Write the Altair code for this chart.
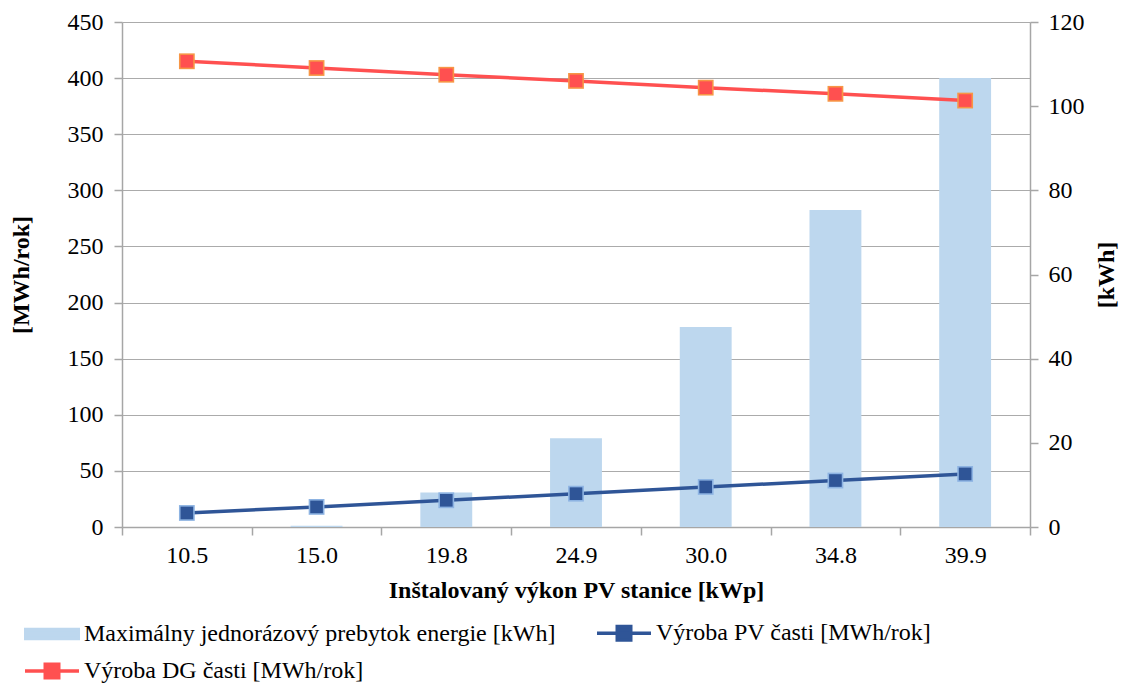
import altair as alt
import pandas as pd

categories = ["10.5", "15.0", "19.8", "24.9", "30.0", "34.8", "39.9"]
surplus_kwh = [0.0, 0.3, 8.2, 21.1, 47.5, 75.3, 106.7]
pv_mwh = [12.5, 17.9, 23.8, 29.7, 35.7, 41.4, 47.3]
dg_mwh = [415, 409, 403, 397.5, 391.5, 386, 380]

S_BAR = "Maximálny jednorázový prebytok energie [kWh]"
S_PV = "Výroba PV časti [MWh/rok]"
S_DG = "Výroba DG časti [MWh/rok]"
series = [S_BAR, S_PV, S_DG]
colors = ["#BDD7EE", "#2F5597", "#FF5050"]
borders = ["#BDD7EE", "#8DB3E2", "#F79646"]
legend_shapes = ["M-1.75,-0.3H1.75V0.3H-1.75Z", "M-1.8,0H1.8M-0.45,-0.45H0.45V0.45H-0.45Z",
                 "M-1.8,0H1.8M-0.45,-0.45H0.45V0.45H-0.45Z"]

bars_df = pd.DataFrame({"cat": categories, "val": surplus_kwh, "series": S_BAR})
lines_df = pd.concat([
    pd.DataFrame({"cat": categories, "val": pv_mwh, "series": S_PV}),
    pd.DataFrame({"cat": categories, "val": dg_mwh, "series": S_DG}),
])
empty_df = pd.DataFrame({"cat": pd.Series([], dtype=str), "val": pd.Series([], dtype=float),
                         "series": pd.Series([], dtype=str)})

FONT = "Liberation Serif"
FS = 24
fill_scale = alt.Scale(domain=series, range=colors)
stroke_scale = alt.Scale(domain=series, range=colors)
shape_scale = alt.Scale(domain=series, range=legend_shapes)


def make_legend():
    return alt.Legend(
        title=None, orient="none", legendX=-87, legendY=594, columns=2, values=series,
        direction="horizontal",
        columnPadding=34, rowPadding=7, symbolSize=900, labelOffset=15,
        labelFont=FONT, labelFontSize=FS, labelColor="#000", labelLimit=800,
        symbolStrokeWidth=3.5, symbolOpacity=1,
    )


x_enc = alt.X("cat:N", sort=categories,
              scale=alt.Scale(paddingInner=0, paddingOuter=0),
              axis=alt.Axis(title="Inštalovaný výkon PV stanice [kWp]", labelAngle=0,
                            tickBand="extent", tickSize=8, labelPadding=8,
                            titlePadding=11, grid=False))

bars = alt.Chart(bars_df).mark_bar(width=alt.RelativeBandSize(0.4)).encode(
    x=x_enc,
    y=alt.Y("val:Q", scale=alt.Scale(domain=[0, 120], nice=False),
            axis=alt.Axis(orient="right", title="[kWh]", values=list(range(0, 121, 20)),
                          grid=False, tickSize=8, labelPadding=10, titlePadding=10,
                          titleAngle=270, titleBaseline="top")),
    fill=alt.Fill("series:N", sort=series, scale=fill_scale, legend=make_legend()),
)

y_left = alt.Y("val:Q", scale=alt.Scale(domain=[0, 450], nice=False),
               axis=alt.Axis(orient="left", title="[MWh/rok]", values=list(range(0, 451, 50)),
                             grid=True, tickSize=8, labelPadding=11, titlePadding=34))

lines = alt.Chart(lines_df).mark_line(strokeWidth=3.5).encode(
    x=x_enc, y=y_left,
    stroke=alt.Stroke("series:N", sort=series, scale=stroke_scale, legend=make_legend()),
)
point_borders = alt.Chart(lines_df).mark_point(shape="square", filled=True, size=250,
                                               opacity=1).encode(
    x=x_enc, y=y_left,
    color=alt.Color("series:N", sort=series,
                    scale=alt.Scale(domain=series, range=borders), legend=None),
)
points = alt.Chart(lines_df).mark_point(shape="square", filled=True, size=160,
                                        opacity=1).encode(
    x=x_enc, y=y_left,
    fill=alt.Fill("series:N", sort=series, scale=fill_scale, legend=make_legend()),
)
legend_layer = alt.Chart(empty_df).mark_point(filled=True, opacity=1).encode(
    x=x_enc, y=y_left,
    shape=alt.Shape("series:N", sort=series, scale=shape_scale, legend=make_legend()),
    fill=alt.Fill("series:N", sort=series, scale=fill_scale, legend=make_legend()),
    stroke=alt.Stroke("series:N", sort=series, scale=stroke_scale, legend=make_legend()),
)

chart = alt.layer(
    bars, alt.layer(lines, point_borders, points, legend_layer)
).resolve_scale(y="independent").properties(
    width=908, height=505,
    autosize=alt.AutoSizeParams(type="none"),
    padding={"left": 122, "top": 22, "right": 98, "bottom": 156},
).configure_view(stroke=None).configure_axis(
    labelFont=FONT, labelFontSize=FS, labelColor="#000",
    titleFont=FONT, titleFontSize=FS, titleFontWeight="bold", titleColor="#000",
    domainColor="#A6A6A6", tickColor="#A6A6A6", gridColor="#ABABAB",
    domainWidth=1.5, tickWidth=1.5, gridWidth=1.2,
)

chart.save("out.html", embed_options={"renderer": "svg", "actions": False})
